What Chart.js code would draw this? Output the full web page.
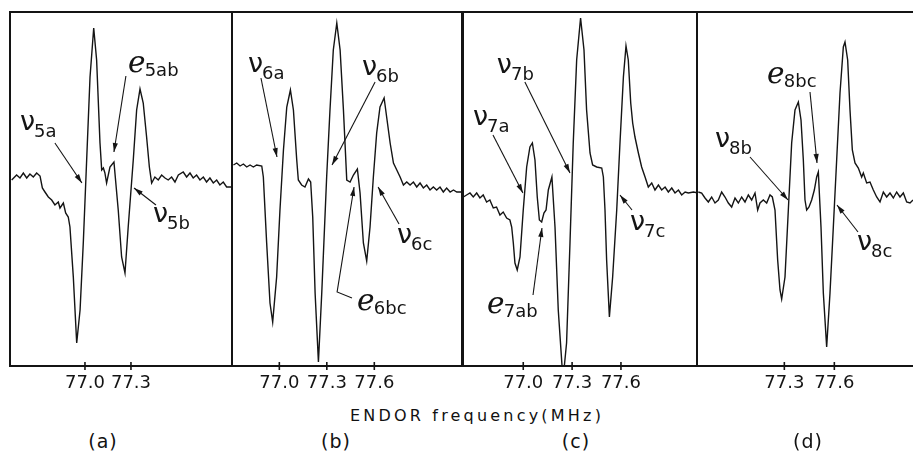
<!DOCTYPE html>
<html><head><meta charset="utf-8">
<script src="https://cdn.jsdelivr.net/npm/chart.js@4.4.0/dist/chart.umd.min.js"></script>
<style>
html,body{margin:0;padding:0;background:#fff;}
body{width:913px;height:453px;overflow:hidden;position:relative;}
canvas{position:absolute;}
.t{position:absolute;font-family:"DejaVu Sans",sans-serif;color:#111;white-space:nowrap;transform:translateX(-50%);line-height:1;}
</style></head><body>
<canvas id="pa" width="230" height="398" style="left:6px;top:8px"></canvas>
<canvas id="pb" width="238" height="398" style="left:228px;top:8px"></canvas>
<canvas id="pc" width="242" height="398" style="left:459px;top:8px"></canvas>
<canvas id="pd" width="238" height="398" style="left:693px;top:8px"></canvas>
<script>
// ---- data (frequency in MHz, ENDOR derivative signal in arbitrary units) ----
const xTitle = 'ENDOR frequency(MHz)';
const panelNames = ['(a)', '(b)', '(c)', '(d)'];

const ticksA = [77.0, 77.3];
const ticksB = [77.0, 77.3, 77.6];
const ticksC = [77.0, 77.3, 77.6];
const ticksD = [77.3, 77.6];

const freqA = [76.522,76.554,76.576,76.598,76.620,76.641,76.663,76.685,76.707,76.722,76.739,76.761,76.783,76.804,76.826,76.837,76.859,76.874,76.891,76.902,76.924,76.946,76.968,76.989,77.011,77.033,77.057,77.076,77.098,77.109,77.120,77.130,77.141,77.163,77.189,77.217,77.239,77.261,77.282,77.315,77.337,77.359,77.380,77.402,77.420,77.435,77.456,77.478,77.500,77.522,77.543,77.565,77.587,77.609,77.641,77.663,77.685,77.706,77.728,77.750,77.772,77.793,77.815,77.837,77.859,77.880,77.902,77.924,77.957];
const sigA  = [186,191,188,193,188,192,189,193,190,178,174,169,166,161,164,158,163,153,149,139,89,23,56,123,206,289,338,306,223,196,198,193,183,199,204,156,109,93,139,206,256,277,263,229,199,183,189,186,191,188,186,189,184,191,194,189,193,188,191,186,189,184,188,183,186,181,184,179,179];

const freqB = [76.710,76.731,76.752,76.773,76.794,76.815,76.836,76.857,76.889,76.899,76.920,76.941,76.958,76.983,77.004,77.026,77.047,77.070,77.089,77.110,77.120,77.141,77.162,77.184,77.198,77.211,77.226,77.247,77.268,77.299,77.320,77.341,77.363,77.384,77.405,77.426,77.447,77.468,77.493,77.510,77.531,77.552,77.573,77.594,77.615,77.636,77.662,77.678,77.700,77.721,77.742,77.763,77.784,77.805,77.826,77.847,77.868,77.889,77.910,77.931,77.952,77.973,77.994,78.015,78.036,78.057,78.079,78.100,78.121,78.152];
const sigB  = [201,203,200,202,199,201,199,201,200,189,123,63,44,89,156,216,259,276,256,206,186,181,179,187,184,149,73,4,73,189,256,316,343,316,256,186,184,191,197,173,123,105,139,189,233,259,268,249,223,203,196,189,181,184,181,184,179,183,178,181,176,179,176,179,174,178,174,176,174,174];

const freqC = [76.632,76.652,76.673,76.693,76.714,76.734,76.754,76.775,76.795,76.816,76.836,76.857,76.877,76.898,76.918,76.929,76.939,76.949,76.963,76.980,77.000,77.021,77.041,77.056,77.072,77.086,77.099,77.113,77.127,77.140,77.154,77.176,77.195,77.215,77.244,77.266,77.287,77.307,77.328,77.352,77.373,77.389,77.410,77.426,77.451,77.482,77.492,77.502,77.512,77.529,77.549,77.574,77.594,77.615,77.631,77.645,77.660,77.672,77.686,77.707,77.727,77.748,77.768,77.789,77.809,77.830,77.850,77.871,77.891,77.912,77.932,77.953,77.973,77.994,78.014,78.045,78.076];
const sigC  = [169,171,173,169,173,168,171,164,166,158,159,151,154,148,146,139,123,103,96,109,156,199,219,223,206,169,146,144,153,156,176,189,139,56,-14,23,123,223,306,348,316,256,213,201,199,198,189,156,106,49,89,156,223,289,320,306,263,243,229,213,199,189,179,183,176,181,176,179,174,178,173,176,171,174,173,174,173];

const freqD = [76.784,76.804,76.824,76.844,76.864,76.884,76.904,76.924,76.944,76.964,76.984,77.004,77.024,77.044,77.064,77.084,77.104,77.124,77.140,77.154,77.174,77.194,77.214,77.228,77.244,77.260,77.274,77.284,77.304,77.324,77.344,77.364,77.384,77.400,77.414,77.424,77.434,77.448,77.464,77.480,77.494,77.504,77.520,77.534,77.554,77.574,77.594,77.614,77.634,77.654,77.664,77.680,77.694,77.708,77.724,77.744,77.764,77.774,77.794,77.814,77.834,77.854,77.874,77.894,77.914,77.934,77.954,77.974,77.994,78.014,78.034,78.054,78.072];
const sigD  = [174,173,168,164,169,163,166,174,169,163,159,168,163,169,164,171,166,173,156,163,166,163,171,169,156,106,76,67,89,156,223,256,264,246,206,166,156,159,166,176,189,194,139,73,19,73,139,206,273,319,324,306,256,216,203,198,189,193,183,184,176,169,164,174,169,173,168,174,169,173,164,163,166];

// line labels: glyph, subscript, text anchor and leader line (MHz, signal units)
const notesA = [
  {main:'ν', sub:'5a',  at:[76.576,236], line:[[76.804,223],[76.980,183]]},
  {main:'ℯ', sub:'5ab', at:[77.280,294], line:[[77.267,290],[77.189,214]]},
  {main:'ν', sub:'5b',  at:[77.443,144], line:[[77.463,161],[77.320,178]]}
];
const notesB = [
  {main:'ν', sub:'6a',  at:[76.802,294], line:[[76.884,288],[76.985,209]]},
  {main:'ν', sub:'6b',  at:[77.522,291], line:[[77.605,284],[77.333,201]]},
  {main:'ν', sub:'6c',  at:[77.743,123], line:[[77.756,142],[77.624,179]]},
  {main:'ℯ', sub:'6bc', at:[77.491,56],  line:[[77.459,68],[77.365,74],[77.472,179]]}
];
const notesC = [
  {main:'ν', sub:'7a',  at:[76.691,241], line:[[76.814,231],[76.998,173]]},
  {main:'ν', sub:'7b',  at:[76.838,293], line:[[77.010,284],[77.287,193]]},
  {main:'ν', sub:'7c',  at:[77.655,136], line:[[77.668,156],[77.594,171]]},
  {main:'ℯ', sub:'7ab', at:[76.777,53],  line:[[77.060,71],[77.115,138]]}
];
const notesD = [
  {main:'ν', sub:'8b',  at:[76.884,219], line:[[77.094,209],[77.322,166]]},
  {main:'ℯ', sub:'8bc', at:[77.196,283], line:[[77.454,274],[77.496,203]]},
  {main:'ν', sub:'8c',  at:[77.736,116], line:[[77.742,134],[77.616,161]]}
];

const ranges = [[76.511,77.959],[76.701,78.154],[76.630,78.067],[76.776,78.156]];
const sigRange = [0, 354];

// ---- drawing ----
const INK = '#141414';
const FONT = '"DejaVu Sans", sans-serif';

function makeDeco(tickVals, notes) {
  return {
    id: 'deco',
    afterDatasetsDraw(chart) {
      const {ctx, chartArea: a, scales: {x, y}} = chart;
      ctx.save();
      ctx.strokeStyle = INK; ctx.fillStyle = INK;
      ctx.lineWidth = 2;
      ctx.strokeRect(a.left, a.top, a.right - a.left, a.bottom - a.top);
      ctx.lineWidth = 1.6;
      tickVals.forEach(v => {
        const px = x.getPixelForValue(v);
        ctx.beginPath(); ctx.moveTo(px, a.bottom - 4); ctx.lineTo(px, a.bottom + 4); ctx.stroke();
      });
      ctx.lineWidth = 1.1;
      notes.forEach(n => {
        const pts = n.line.map(p => [x.getPixelForValue(p[0]), y.getPixelForValue(p[1])]);
        ctx.beginPath(); ctx.moveTo(pts[0][0], pts[0][1]);
        for (let i = 1; i < pts.length; i++) ctx.lineTo(pts[i][0], pts[i][1]);
        ctx.stroke();
        const [x1, y1] = pts[pts.length - 2], [x2, y2] = pts[pts.length - 1];
        const ang = Math.atan2(y2 - y1, x2 - x1), L = 9, W = 2.6;
        const c = Math.cos(ang), s = Math.sin(ang);
        ctx.beginPath(); ctx.moveTo(x2, y2);
        ctx.lineTo(x2 - L * c + W * s, y2 - L * s - W * c);
        ctx.lineTo(x2 - L * c - W * s, y2 - L * s + W * c);
        ctx.closePath(); ctx.fill();
        const ax = x.getPixelForValue(n.at[0]), ay = y.getPixelForValue(n.at[1]);
        const isNu = n.main === 'ν';
        ctx.textAlign = 'left'; ctx.textBaseline = 'alphabetic';
        ctx.font = (isNu ? '27px ' : '30px ') + FONT;
        ctx.fillText(n.main, ax, ay);
        const w = ctx.measureText(n.main).width;
        ctx.font = '18px ' + FONT;
        ctx.fillText(n.sub, ax + w - 1, ay + (isNu ? 7 : 4));
      });
      ctx.restore();
    }
  };
}

function panel(id, freq, sig, range, tickVals, notes) {
  new Chart(document.getElementById(id), {
    type: 'line',
    data: { datasets: [{
      data: freq.map((f, i) => ({x: f, y: sig[i]})),
      borderColor: INK, borderWidth: 1.4, pointRadius: 0, tension: 0, fill: false
    }]},
    options: {
      responsive: false, animation: false, devicePixelRatio: 1,
      layout: { padding: {left: 4, right: 4, top: 4, bottom: 0} },
      plugins: { legend: {display: false}, tooltip: {enabled: false} },
      scales: {
        x: {
          type: 'linear', min: range[0], max: range[1],
          grid: {display: false, drawTicks: false},
          border: {display: false},
          afterBuildTicks: s => { s.ticks = tickVals.map(v => ({value: v})); },
          afterFit: s => { s.height = 40; },
          ticks: { autoSkip: false, maxRotation: 0, padding: 7, color: INK,
                   font: {family: FONT, size: 18}, callback: v => v.toFixed(1) }
        },
        y: { display: false, min: sigRange[0], max: sigRange[1] }
      }
    },
    plugins: [makeDeco(tickVals, notes)]
  });
}

panel('pa', freqA, sigA, ranges[0], ticksA, notesA);
panel('pb', freqB, sigB, ranges[1], ticksB, notesB);
panel('pc', freqC, sigC, ranges[2], ticksC, notesC);
panel('pd', freqD, sigD, ranges[3], ticksD, notesD);

// captions
function caption(text, left, top, size, spacing) {
  const d = document.createElement('div');
  d.className = 't'; d.textContent = text;
  d.style.left = left + 'px'; d.style.top = top + 'px';
  d.style.fontSize = size + 'px'; d.style.letterSpacing = spacing + 'px';
  document.body.appendChild(d);
}
caption(xTitle, 477, 408, 16, 3.2);
const capX = [103, 336, 576, 808];
panelNames.forEach((t, i) => caption(t, capX[i], 432, 19, 1));
</script>
</body></html>
